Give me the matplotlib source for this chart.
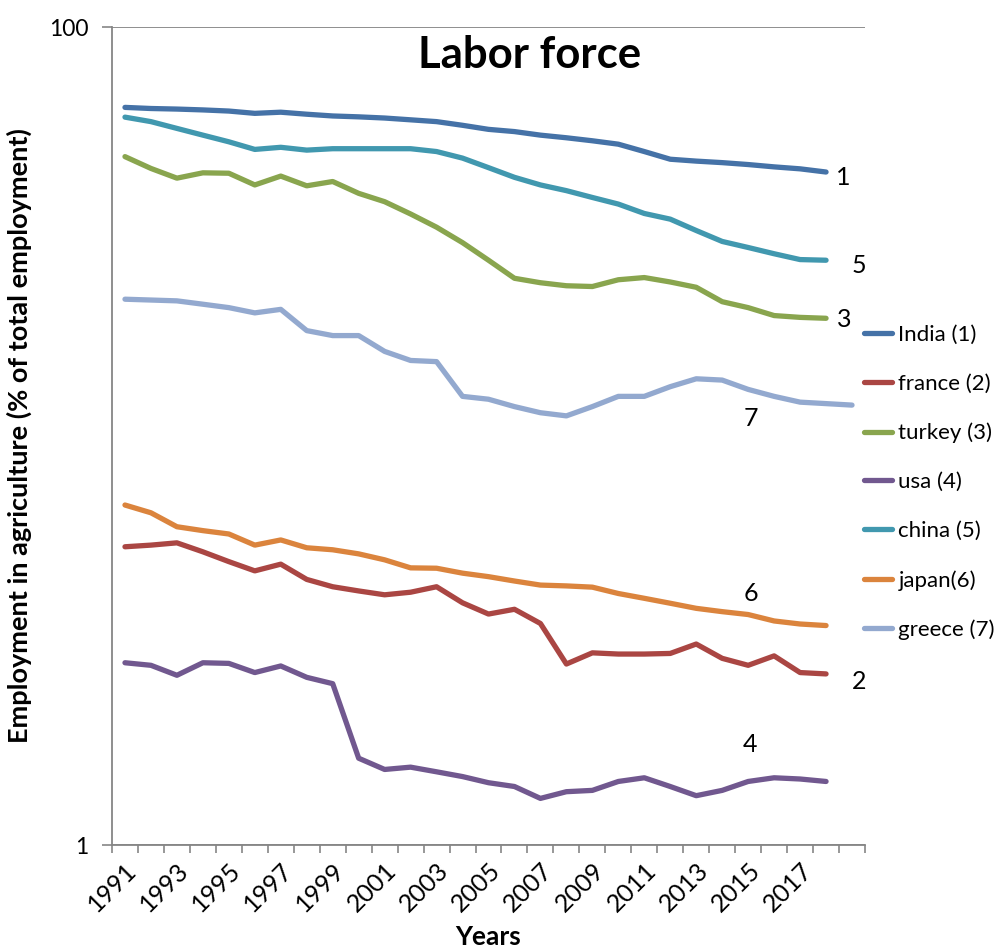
import matplotlib
matplotlib.use("Agg")
import matplotlib.pyplot as plt
from matplotlib.ticker import FixedLocator, NullLocator
from matplotlib.transforms import ScaledTranslation

plt.rcParams['font.family'] = ['Lato', 'DejaVu Sans']

years = list(range(1991, 2020))

india = [63.6, 63.2, 63.0, 62.7, 62.3, 61.5, 61.9, 61.2, 60.6, 60.3, 59.9, 59.3, 58.7, 57.5,
         56.2, 55.5, 54.4, 53.6, 52.7, 51.7, 49.6, 47.5, 47.0, 46.6, 46.1, 45.5, 45.0, 44.2]
france = [5.36, 5.41, 5.48, 5.21, 4.93, 4.68, 4.86, 4.46, 4.28, 4.18, 4.09, 4.15, 4.28, 3.91,
          3.67, 3.77, 3.48, 2.77, 2.95, 2.93, 2.93, 2.94, 3.10, 2.86, 2.75, 2.90, 2.64, 2.62]
turkey = [48.2, 45.1, 42.7, 44.0, 43.9, 41.1, 43.2, 40.9, 41.9, 39.2, 37.4, 34.9, 32.4, 29.7,
          26.9, 24.3, 23.7, 23.3, 23.2, 24.1, 24.4, 23.8, 23.1, 21.3, 20.6, 19.7, 19.5, 19.4]
usa = [2.79, 2.75, 2.60, 2.79, 2.78, 2.64, 2.74, 2.57, 2.48, 1.63, 1.53, 1.55, 1.51, 1.47,
       1.42, 1.39, 1.30, 1.35, 1.36, 1.43, 1.46, 1.39, 1.32, 1.36, 1.43, 1.46, 1.45, 1.43]
china = [60.2, 58.7, 56.5, 54.4, 52.4, 50.2, 50.8, 50.0, 50.4, 50.4, 50.4, 50.4, 49.6, 47.8,
         45.3, 42.9, 41.1, 39.8, 38.3, 36.9, 35.0, 33.9, 31.8, 29.9, 28.9, 27.9, 27.0, 26.9]
japan = [6.78, 6.49, 6.00, 5.87, 5.76, 5.41, 5.57, 5.33, 5.27, 5.15, 4.98, 4.76, 4.75, 4.62,
         4.53, 4.42, 4.32, 4.30, 4.27, 4.12, 4.01, 3.90, 3.79, 3.72, 3.66, 3.53, 3.47, 3.44]
greece = [21.6, 21.5, 21.4, 21.0, 20.6, 20.0, 20.4, 18.1, 17.6, 17.6, 16.1, 15.3, 15.2, 12.5,
          12.3, 11.8, 11.4, 11.2, 11.8, 12.5, 12.5, 13.2, 13.8, 13.7, 13.0, 12.5, 12.1, 12.0, 11.9]

series_names = ["India (1)", "france (2)", "turkey (3)", "usa (4)", "china (5)", "japan(6)", "greece (7)"]
series_values = [india, france, turkey, usa, china, japan, greece]
series_colors = ["#4572A7", "#AA4643", "#89A54E", "#71588F", "#4198AF", "#DB843D", "#93A9CF"]

# number tag, series index, year the tag sits next to, pixel offset
tags = [("1", 0, 2018, (17, -5)), ("5", 4, 2018, (33, -5)), ("3", 2, 2018, (18, -1)),
        ("7", 6, 2015, (3, -29)), ("6", 5, 2015, (3, 21)), ("2", 1, 2018, (33, -8)),
        ("4", 3, 2015, (2, 37))]

fig = plt.figure(figsize=(10.07, 9.5), dpi=100)
ax = fig.add_axes([112 / 1007, 105 / 950, 753 / 1007, 818 / 950])

for name, vals, col in zip(series_names, series_values, series_colors):
    xs = [years.index(y) for y in years[:len(vals)]]
    ax.plot(xs, vals, color=col, lw=3.8, solid_capstyle='round', solid_joinstyle='round', label=name)

for txt, si, yr, (dx, dy) in tags:
    i = years.index(yr)
    ax.annotate(txt, xy=(i, series_values[si][i]), xytext=(dx, dy), textcoords='offset pixels',
                ha='center', va='center', fontsize=18, color='black')

ax.set_yscale('log')
ax.set_ylim(1, 100)
ax.yaxis.set_major_locator(FixedLocator([1, 100]))
ax.yaxis.set_minor_locator(NullLocator())
ax.set_yticklabels(["1", "100"], fontsize=16.5)
ax.grid(axis='y', which='major', color='#868686', lw=1.3)
ax.set_axisbelow(True)

ax.set_xlim(-0.5, len(years) - 0.5)
ax.set_xticks([i - 0.5 for i in range(len(years) + 1)], minor=True)
label_pos = [i for i, y in enumerate(years) if y % 2 == 1 and y <= 2017]
ax.set_xticks(label_pos)
ax.set_xticklabels([str(years[i]) for i in label_pos], rotation=45, ha='right', va='top',
                   rotation_mode='anchor', fontsize=18)
shift = ScaledTranslation(15 / 100, 0, fig.dpi_scale_trans)
for lbl in ax.get_xticklabels():
    lbl.set_transform(lbl.get_transform() + shift)
ax.tick_params(axis='x', which='major', length=0, pad=10)
ax.tick_params(axis='x', which='minor', length=6, color='#868686', width=1.2)
ax.tick_params(axis='y', which='major', length=7, color='#868686', width=1.2, pad=10)

for s in ['top', 'right']:
    ax.spines[s].set_visible(False)
for s in ['left', 'bottom']:
    ax.spines[s].set_color('#868686')
    ax.spines[s].set_linewidth(1.3)

ax.set_ylabel("Employment in agriculture (% of total employment)", fontsize=19.5,
              fontweight='bold', labelpad=12)
ax.set_xlabel("Years", fontsize=19, fontweight='bold', labelpad=6)
fig.text(530 / 1007, 1 - 55 / 950, "Labor force", fontsize=31.5, fontweight='bold',
         ha='center', va='center')

ax.legend(loc='upper left', bbox_to_anchor=(864 / 1007, 1 - 325 / 950), bbox_transform=fig.transFigure,
          frameon=False, fontsize=16, handlelength=1.25, handletextpad=0.3, labelspacing=1.3,
          borderpad=0, borderaxespad=0)

fig.savefig("out.png", dpi=100)
